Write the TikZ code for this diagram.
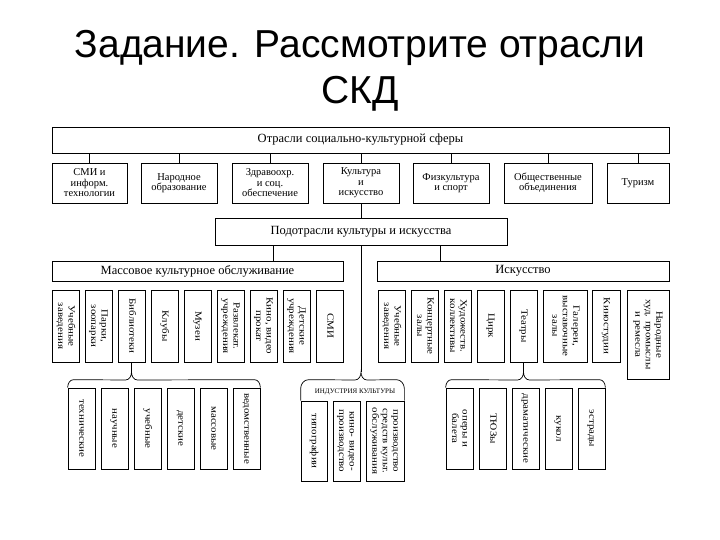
\documentclass[tikz,border=0pt]{standalone}
\usepackage{fontspec}
\setmainfont{Liberation Serif}
\newfontfamily\titlefont{Liberation Sans}
\usepackage{graphicx}
\usetikzlibrary{calc}
\tikzset{box/.style={draw,inner sep=1pt,align=center}}
\tikzset{head/.style={box,font=\fontsize{12.5}{14}\selectfont}}
\tikzset{sector/.style={box,minimum height=40pt,font=\fontsize{10.5}{10.5}\selectfont}}
\tikzset{vbox/.style={box,rotate=-90,minimum height=27pt,font=\fontsize{9.5}{10.5}\selectfont}}
\newcommand\vtext[1]{\scalebox{1.15}[1]{\begin{tabular}{@{}c@{}}#1\end{tabular}}}

\begin{document}
\begin{tikzpicture}[x=1pt,y=1pt,line width=0.7pt]
\useasboundingbox (0,0) rectangle (720,-540);

\node[font=\titlefont\fontsize{39}{46}\selectfont,anchor=base] (title1) at (360,-58) {Задание. Рассмотрите отрасли};
\node[font=\titlefont\fontsize{39}{46}\selectfont,anchor=base] (title2) at (360,-104) {СКД};

% отрасли
\node[head,minimum width=617pt,minimum height=26pt] (top) at (360.5,-140) {Отрасли социально-культурной сферы};
\node[sector,minimum width=75pt] (s1) at (89.5,-183) {СМИ и\\информ.\\технологии};
\node[sector,minimum width=76pt] (s2) at (179,-183) {Народное\\образование};
\node[sector,minimum width=76pt] (s3) at (270,-183) {Здравоохр.\\и соц.\\обеспечение};
\node[sector,minimum width=76pt] (s4) at (361,-183) {Культура\\и\\искусство};
\node[sector,minimum width=76pt] (s5) at (451,-183) {Физкультура\\и спорт};
\node[sector,minimum width=88pt] (s6) at (548,-183) {Общественные\\объединения};
\node[sector,minimum width=62pt] (s7) at (638,-183) {Туризм};
\foreach \s in {s1,s2,s3,s4,s5,s6,s7}
  \draw (top.south -| \s.north) -- (\s.north);

% подотрасли
\node[head,minimum width=292pt,minimum height=27pt] (sub) at (361,-231.5) {Подотрасли культуры и искусства};
\draw (s4.south) -- (s4.south |- sub.north);
\node[head,minimum width=291pt,minimum height=20pt] (mass) at (197.5,-271) {Массовое культурное обслуживание};
\node[head,minimum width=292pt,minimum height=20pt] (art) at (523,-271) {Искусство};
\draw (sub.south -| 273,0) -- (mass.north -| 273,0);
\draw (sub.south -| 440,0) -- (art.north -| 440,0);

\foreach \t [count=\i] in {{Учебные\\заведения},{Парки,\\зоопарки},Библиотеки,Клубы,Музеи,
    {Развлекат.\\учреждения},{Кино, видео\\прокат},{Детские\\учреждения},СМИ}
  \node[vbox,minimum width=72pt] (m\i) at ({65.5+33*(\i-1)},-326) {\vtext{\t}};

\foreach \t [count=\i] in {{Учебные\\заведения},{Концертные\\залы},{Художеств.\\коллективы},Цирк,Театры}
  \node[vbox,minimum width=72pt] (a\i) at ({391.5+33*(\i-1)},-326) {\vtext{\t}};
\node[vbox,minimum width=72pt,minimum height=44pt] (a6) at (565,-326) {\vtext{Галереи,\\выставочные\\залы}};
\node[vbox,minimum width=72pt,minimum height=28pt] (a7) at (606,-326) {\vtext{Киностудии}};
\node[vbox,minimum width=89pt,minimum height=42pt] (a8) at (648,-334.5) {\vtext{Народные\\худ. промыслы\\и ремесла}};

% библиотеки
\foreach \t [count=\i] in {технические,научные,учебные,детские,массовые,ведомственные}
  \node[vbox,minimum width=81pt] (b\i) at ({81.5+33*(\i-1)},-428.5) {\vtext{\t}};
\draw (m3.east) -- (m3.east |- 0,-372) coordinate (libtip);
\draw (b1.south west) to[out=90,in=180] ++(6,8) -- ($(libtip)+(-6,-8)$) to[out=0,in=-90] (libtip)
  to[out=-90,in=180] ++(6,-8) -- ($(b6.north west)+(-6,8)$) to[out=0,in=90] (b6.north west);

% индустрия культуры
\node[vbox,minimum width=80pt,minimum height=26pt] (i1) at (314,-441) {\vtext{типографии}};
\node[vbox,minimum width=80pt] (i2) at (346.5,-441) {\vtext{кино- видео-\\производство}};
\node[vbox,minimum width=80pt,minimum height=38pt] (i3) at (385,-441) {\vtext{производство\\средств культ.\\обслуживания}};
\node[font=\fontsize{7}{8}\selectfont] (indlbl) at (355,-392) {ИНДУСТРИЯ КУЛЬТУРЫ};
\draw (sub.south) -- (sub.south |- 0,-372) coordinate (indtip);
\draw (i1.south west) -- ++(0,12) to[out=90,in=180] ++(8,9) -- ($(indtip)+(-6,-8)$) to[out=0,in=-90] (indtip)
  to[out=-90,in=180] ++(6,-8) -- ($(i3.north west)+(-8,21)$) to[out=0,in=90] ++(8,-9) -- (i3.north west);

% театры
\foreach \t [count=\i] in {{оперы и\\балета},ТЮЗы,драматические,кукол,эстрады}
  \node[vbox,minimum width=81pt] (t\i) at ({459.5+33*(\i-1)},-428.5) {\vtext{\t}};
\draw (a5.east) -- (a5.east |- 0,-372) coordinate (thtip);
\draw (t1.south west) to[out=90,in=180] ++(6,8) -- ($(thtip)+(-6,-8)$) to[out=0,in=-90] (thtip)
  to[out=-90,in=180] ++(6,-8) -- ($(t5.north west)+(-6,8)$) to[out=0,in=90] (t5.north west);
\end{tikzpicture}
\end{document}
